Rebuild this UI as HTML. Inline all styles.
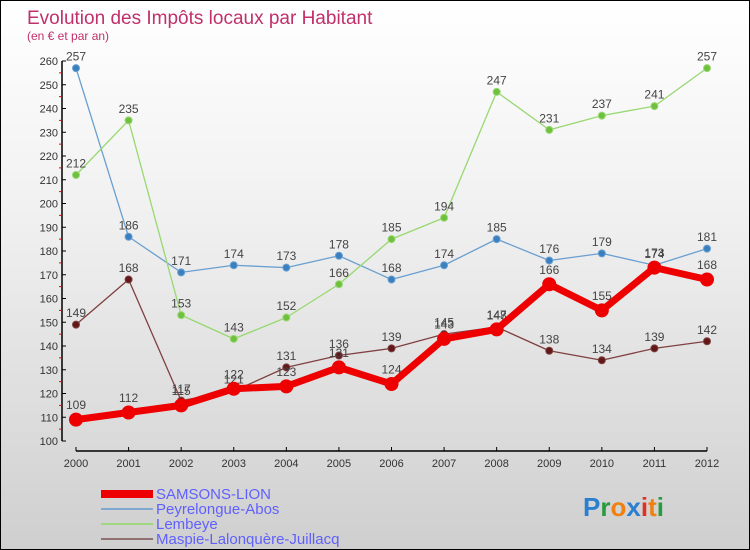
<!DOCTYPE html>
<html><head><meta charset="utf-8"><style>
body{margin:0}
#c{width:750px;height:550px;position:relative;box-sizing:border-box;border:1px solid #000;background:linear-gradient(#ffffff,#f0f0f0 40%,#cfcfcf);font-family:"Liberation Sans",sans-serif;overflow:hidden}
</style></head><body>
<div id="c">
<svg id="s" width="750" height="550" style="position:absolute;left:0;top:0">
<text x="26" y="23" font-size="19" fill="#c0306a">Evolution des Impôts locaux par Habitant</text>
<text x="26" y="39" font-size="12" fill="#c0306a">(en € et par an)</text>
<g id="g"></g>
<g>
<rect x="100" y="489" width="52" height="8" fill="#ee0000"/>
<text x="155" y="498" font-size="15" fill="#6060ff">SAMSONS-LION</text>
<rect x="100" y="507" width="52" height="2" fill="#80a8d0"/>
<text x="155" y="513" font-size="15" fill="#6060ff">Peyrelongue-Abos</text>
<rect x="100" y="522" width="52" height="2" fill="#a0d880"/>
<text x="155" y="528" font-size="15" fill="#6060ff">Lembeye</text>
<rect x="100" y="537" width="52" height="2" fill="#907070"/>
<text x="155" y="543" font-size="15" fill="#6060ff">Maspie-Lalonquère-Juillacq</text>
</g>
<text x="582" y="515" font-size="26" font-weight="bold"><tspan fill="#2a7fd0">P</tspan><tspan fill="#2a9a40">r</tspan><tspan fill="#f08010">o</tspan><tspan fill="#2a7fd0">x</tspan><tspan fill="#e03020">i</tspan><tspan fill="#f08010">t</tspan><tspan fill="#2a9a40">i</tspan></text>
</svg></div>
<script>
const years=[2000,2001,2002,2003,2004,2005,2006,2007,2008,2009,2010,2011,2012];
const yTicks=[100,110,120,130,140,150,160,170,180,190,200,210,220,230,240,250,260];
const samsons=[109,112,115,122,123,131,124,143,147,166,155,173,168];
const peyrelongue=[257,186,171,174,173,178,168,174,185,176,179,174,181];
const lembeye=[212,235,153,143,152,166,185,194,247,231,237,241,257];
const maspie=[149,168,117,121,131,136,139,145,148,138,134,139,142];
const NS="http://www.w3.org/2000/svg";
const g=document.getElementById('g');
function X(i){return 75+i*(706-75)/12}
function Y(v){return 440-(v-100)*380/160}
function mk(t,a,name){const e=document.createElementNS(NS,t);for(const k in a)e.setAttribute(k,a[k]);


g.appendChild(e);return e}
mk('line',{x1:61,y1:Y(260),x2:61,y2:Y(100),stroke:'#000','stroke-width':1.5},'y-axis');
mk('line',{x1:X(0),y1:450,x2:X(12),y2:450,stroke:'#000','stroke-width':1.5},'x-axis');
yTicks.forEach((v,i)=>{mk('line',{x1:61,y1:Y(v),x2:65,y2:Y(v),stroke:'#000'},'y-tick');
const t=mk('text',{x:57,y:Y(v)+4,'font-size':11,fill:'#333','text-anchor':'end'},'y-tick-label');t.textContent=v;
if(i<yTicks.length-1)mk('line',{x1:58,y1:Y(v+5),x2:61,y2:Y(v+5),stroke:'#e00'},'y-minor-tick');});
years.forEach((y,i)=>{mk('line',{x1:X(i),y1:446,x2:X(i),y2:450,stroke:'#000'},'x-tick');
const t=mk('text',{x:X(i),y:466,'font-size':11,fill:'#333','text-anchor':'middle'},'x-tick-label');t.textContent=y;});
function series(d,col,dot,w,r,name){
mk('polyline',{points:d.map((v,i)=>X(i)+','+Y(v)).join(' '),fill:'none',stroke:col,'stroke-width':w,'stroke-linejoin':'round'},name+'-line');
d.forEach((v,i)=>{mk('circle',{cx:X(i),cy:Y(v),r:r,fill:dot,stroke:col,'stroke-width':1},name+'-point');
const t=mk('text',{x:X(i),y:Y(v)-(r+4),'font-size':12,fill:'#444','text-anchor':'middle'},name+'-value');t.textContent=v;});}
series(peyrelongue,'#6a9fd0','#3a80c0',1.3,3.5,'peyrelongue');
series(lembeye,'#98d870','#70c040',1.3,3.5,'lembeye');
series(maspie,'#804040','#601818',1.3,3.5,'maspie');
series(samsons,'#ee0000','#ee0000',7,6.5,'samsons');
</script>
</body></html>
